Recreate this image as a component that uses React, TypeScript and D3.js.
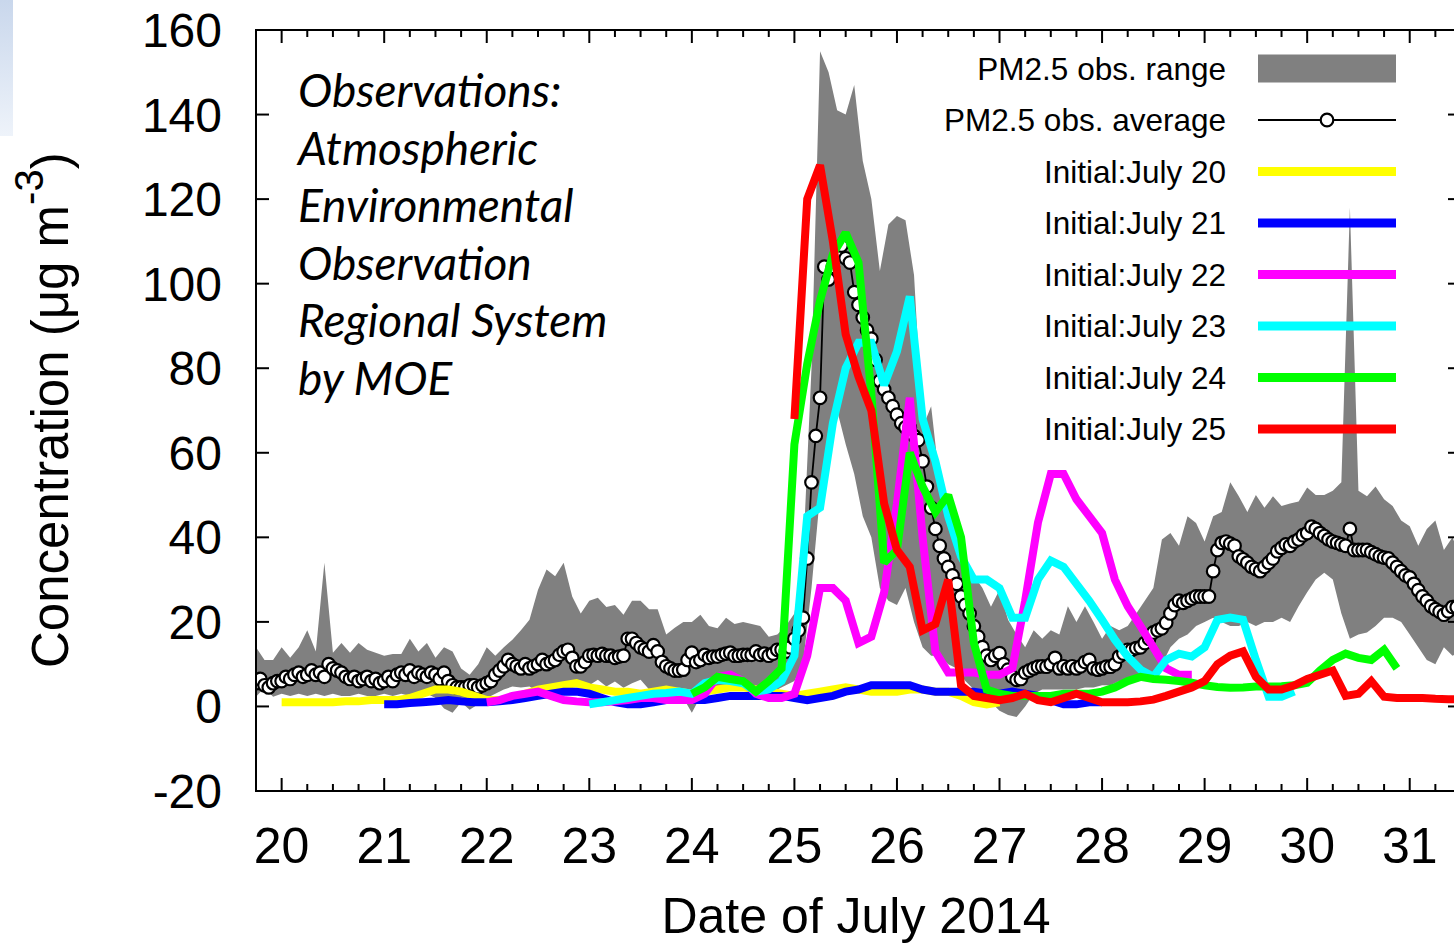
import React from "react";
import * as d3 from "d3";

// PM2.5 observations, hourly from July 19 18:00
const obsStart = 19.75;
const obsStep = 1 / 24;
const obsAverage = [
  5.5, 6.5, 5, 4.5, 5.5, 6,
  6, 7, 6.5, 7.5, 8, 7, 7.5, 8.5, 7.5, 8, 7, 10, 9, 8.5, 8, 7, 6.5, 7, 6, 6.5, 7, 6, 6.5, 5.5,
  6, 7, 6, 7.5, 8, 7.5, 8.5, 7, 8, 7.5, 7, 8, 7.5, 6.5, 8, 6, 5, 4.5, 4.5, 4.5, 5, 5, 4.5, 5,
  5.5, 6, 7.5, 8.5, 9.5, 11, 10, 9.5, 9, 10, 9, 9.5, 10, 11, 10, 10.5, 11, 12.2, 13, 13.4, 11.5, 9.5, 9.5, 10.5,
  12, 12.2, 12, 12.4, 12, 12, 11.5, 11.8, 12, 16, 16, 15, 14, 13.5, 13, 14.5, 13, 10.5, 9.5, 9, 8.5, 8.5, 8.7, 11,
  12.7, 10.5, 11, 12.2, 11.5, 11.8, 11.8, 12.2, 12.5, 12.7, 12, 12, 12.2, 12.2, 12.2, 13, 12.2, 12.5, 12, 12.5, 13.4, 13.4, 13, 14,
  16, 18, 21, 35, 53, 64, 73, 104, 101, 104, 107, 109, 106, 105, 98, 95, 92, 89, 87, 82, 77, 75, 73, 71,
  69, 67, 66, 66, 64, 63, 58, 52, 47, 42, 38, 35, 33, 31, 29, 26, 24, 22, 19, 16.5, 14, 12, 11, 12,
  12.6, 10, 8.7, 7, 6.3, 6.5, 8, 8.5, 9, 9.4, 9.5, 9.4, 10, 11.5, 9, 9.5, 9, 9.5, 9, 9.5, 10.5, 11, 9, 8.7,
  9, 9.4, 9.4, 10, 11.8, 12.5, 13.4, 13.4, 13.8, 14, 15, 16, 17.5, 18, 18.5, 19.8, 22, 24, 25, 24.5, 25, 25.5, 26, 26,
  26, 26, 32, 37, 38.7, 39, 38.5, 38, 35.5, 34.8, 34, 33, 32.5, 32, 33, 34, 35, 36.7, 37.5, 38.3, 38, 39, 39.5, 40.5,
  41, 42.5, 42, 41, 40.3, 39.5, 39, 38.7, 38.3, 38, 42, 37, 37, 37, 37, 36.5, 36, 35.5, 35.2, 35, 34, 33, 32, 31,
  30.5, 29, 27.5, 26, 25, 23.7, 23, 22.4, 21.7, 22.5, 23.5, 23.5,
];

// obs. range over the stations, every 2 h
const rangeStart = 19.75;
const rangeStep = 1 / 12;
const rangeUpper = [
  14, 11, 11,
  14, 11.5, 14, 18, 13, 34, 12.7, 15, 12.7, 15, 13.4, 12.7,
  12, 12.4, 12.4, 16, 13, 15, 11.5, 14, 13, 9, 7.5, 10,
  14, 12, 14, 15.8, 18, 20.5, 27.6, 32.4, 30.8, 34, 26, 22,
  25, 25.7, 23.5, 24, 21.7, 25, 25, 23, 23, 17, 18.6, 20,
  20, 21.7, 19, 18.5, 21, 19.5, 20, 19.5, 19, 16.5, 17, 19,
  22, 35, 80, 155, 150, 141, 140, 147, 129, 120, 103, 114,
  116, 115, 102, 66, 71, 53, 45, 38, 33, 31, 28, 23.6,
  27.6, 20.5, 17, 14, 18, 16, 18, 17, 23.7, 20, 23.7, 20,
  16, 19, 18, 19, 22, 25, 28, 39.5, 41, 38, 45, 43.4,
  39, 45, 46, 53, 49.7, 46, 50, 47, 49.7, 47.4, 48, 48.5,
  51.8, 50, 50, 51, 53, 118, 51, 49.7, 52, 49, 47.4, 44,
  42.6, 38, 42, 44, 37, 40, 35,
];
const rangeLower = [
  2.3, 4.5, 2.3,
  3, 2.5, 3, 2.5, 3, 2.5, 3, 2.5, 2.5, 3, 2.5, 2.5,
  3, 2.5, 3, 2.5, 2.5, 3, 2, -0.5, -1.5, 1, -0.8, 0.5,
  2, 3, 4, 4.7, 4.5, 4.7, 3.5, 4.7, 4.7, 4.5, 5.5, 4.7,
  5, 6.3, 4.7, 5.9, 4.4, 5.5, 6.3, 4, 4, 1.6, 3, 2,
  -1.5, 2.3, 3, 4, 4, 4, 4, 4, 4, 3.5, 4, 5,
  6, 10, 28, 50, 62, 70, 62, 55, 45, 40, 28, 25,
  24, 28, 20, 14, 12, 12, 10, 9, 6, 4, 2, 1,
  -1, -2, -2.5, 0, 3, 4, 4, 4, 4, 4, 4.5, 4.5,
  5, 5, 6, 6, 6.5, 7, 8, 10, 14, 16, 17, 19,
  20, 21, 20, 19, 19, 20, 19, 20, 20, 21, 20, 23.7,
  27, 30, 31.6, 30, 22, 16, 17, 17.5, 19, 21, 21, 20,
  17, 14, 11, 10, 14, 12, 13,
];

// model runs, 3-hourly output from 00:00 of the initial day
const runStep = 1 / 8;
const initJuly20 = [
  1, 1, 1, 1, 1, 1.2, 1.2, 1.5,
  1.5, 1.5, 2, 3, 4, 4, 3.5, 2.5,
  1.5, 1.5, 2, 3, 4, 4.5, 5, 5.5,
  4.5, 4, 3.5, 3.5, 3, 3.5, 4, 3.5,
  3, 3.5, 4, 4.5, 4.5, 4, 3.5, 3,
  2.5, 3, 3.5, 4, 4.5, 4, 3.5, 3.5,
  3.5, 4, 4, 3.5, 3.5, 2.5, 1, 0.5,
  1,
];
const initJuly21 = [
  0.5, 0.5, 0.8, 1, 1.2, 1.5, 1.2, 1,
  1, 1.2, 1.5, 2, 2.5, 3, 3.5, 3.5,
  3, 2, 1, 0.5, 0.5, 1, 1.5, 1.5,
  1.5, 1.5, 2, 2.5, 2.5, 2.5, 2.5, 2.5,
  2, 1.5, 2, 2.5, 3.5, 4, 5, 5,
  5, 5, 4, 3.5, 3.5, 3.5, 3.5, 3,
  3, 3.5, 3, 2.5, 1.5, 0.5, 0.5, 1,
  1,
];
const initJuly22 = [
  1, 1.5, 2.5, 3, 3.5, 2.5, 1.5, 1.2,
  1, 1, 1.2, 1.5, 2, 2, 1.5, 1.5,
  1.5, 3, 7, 7.5, 6, 3, 2, 2,
  3, 12, 28, 28, 25, 15, 16.5, 27,
  48, 73, 40, 13, 8, 8, 8, 7.5,
  7.5, 9, 25, 43.5, 55, 55, 49, 45,
  41, 30, 23.7, 19, 14, 9, 7.5, 7.5,
];
const initJuly23 = [
  0.5, 1, 1.5, 2, 2.5, 3, 3.2, 3.5,
  3, 5.5, 6.3, 6, 5.5, 3.5, 4, 6,
  12, 45, 47, 67, 80, 86, 86, 76,
  84, 97, 68, 58, 45, 35.5, 30, 30,
  28, 21, 21, 30, 34.5, 33, 29, 25,
  20.5, 15.8, 11.8, 8.7, 7, 11, 12.5, 11.8,
  14, 20.5, 21, 20.5, 11, 2.3, 2.3, 3.5,
];
const initJuly24 = [
  3, 4.5, 7, 6.5, 6, 3.5, 6, 9,
  62, 81, 96, 107, 112, 105, 74, 34,
  37, 60, 52, 46, 50, 40, 15, 4,
  3, 2.5, 2.5, 2.5, 2.5, 3, 3, 3,
  3.5, 4.5, 6, 7, 6.5, 6.3, 6, 5.6,
  5, 4.6, 4.4, 4.5, 4.7, 4.7, 4.8, 5,
  5.6, 8.5, 11, 12.5, 11.5, 11, 13.4, 9,
];
const initJuly25 = [
  68, 120, 128, 110, 88, 78, 70, 48,
  37, 33, 18, 19.5, 30, 5, 2.5, 2,
  1.5, 2, 3, 1.5, 1, 2, 3, 2,
  1, 1, 1, 1.2, 1.6, 2.5, 3.5, 4.5,
  6, 10, 12, 13, 7, 4, 4, 5,
  6.5, 7.5, 8.5, 2.5, 3, 6, 2.3, 2,
  2, 2, 1.8, 1.7, 1.7,
];

const runLabels = [
  "Initial:July 20",
  "Initial:July 21",
  "Initial:July 22",
  "Initial:July 23",
  "Initial:July 24",
  "Initial:July 25",
];
const runStarts = [20, 21, 22, 23, 24, 25];
const runColors = ["#ffff00", "#0000ff", "#ff00ff", "#00ffff", "#00ff00", "#ff0000"];
const runValues = [initJuly20, initJuly21, initJuly22, initJuly23, initJuly24, initJuly25];

const xTickValues = [20, 21, 22, 23, 24, 25, 26, 27, 28, 29, 30, 31];
const yTickValues = [-20, 0, 20, 40, 60, 80, 100, 120, 140, 160];

const noteLines = [
  "Observations:",
  "Atmospheric",
  "Environmental",
  "Observation",
  "Regional System",
  "by MOE",
];

const sans = "'Liberation Sans', Arial, Helvetica, sans-serif";

export default function App() {
  const width = 1454;
  const height = 946;
  const plot = { left: 256, top: 30, right: 1461, bottom: 791 };

  const x = d3.scaleLinear().domain([19.75, 31.5]).range([plot.left, plot.right]);
  const y = d3.scaleLinear().domain([-20, 160]).range([plot.bottom, plot.top]);

  const rangeArea = d3
    .area<number>()
    .x((_, i) => x(rangeStart + i * rangeStep))
    .y0((_, i) => y(rangeLower[i]))
    .y1((d) => y(d));

  const obsLine = d3
    .line<number>()
    .x((_, i) => x(obsStart + i * obsStep))
    .y((d) => y(d));

  const runLine = (start: number) =>
    d3
      .line<number>()
      .x((_, i) => x(start + i * runStep))
      .y((d) => y(d));

  const minorX = d3
    .range(19.75, 31.5001, 0.25)
    .filter((t) => Math.abs(t - Math.round(t)) > 1e-6);

  const majorLen = 13;
  const minorLen = 7;
  const dotR = 6.3;

  // key
  const keyTextX = 1226;
  const keyX0 = 1258;
  const keyX1 = 1396;
  const keyRow = (i: number) => 68.5 + i * 51.5;

  return (
    <svg
      width={width}
      height={height}
      style={{ position: "absolute", left: 0, top: 0, background: "#fff" }}
      fontFamily={sans}
    >
      <defs>
        <clipPath id="plotClip">
          <rect x={plot.left} y={plot.top} width={plot.right - plot.left} height={plot.bottom - plot.top} />
        </clipPath>
        <linearGradient id="slideBg" x1="0" y1="0" x2="0" y2="1">
          <stop offset="0%" stopColor="#c9d7ec" />
          <stop offset="100%" stopColor="#eef3fa" />
        </linearGradient>
      </defs>

      <rect x={0} y={0} width={width} height={height} fill="#fff" />
      <rect x={0} y={0} width={13} height={136} fill="url(#slideBg)" />

      <g clipPath="url(#plotClip)">
        <path d={rangeArea(rangeUpper) ?? ""} fill="#808080" stroke="none" />
        <path d={obsLine(obsAverage) ?? ""} fill="none" stroke="#000" strokeWidth={1.8} />
        {obsAverage.map((v, i) => (
          <circle
            key={i}
            cx={x(obsStart + i * obsStep)}
            cy={y(v)}
            r={dotR}
            fill="#fff"
            stroke="#000"
            strokeWidth={2.2}
          />
        ))}
        {runValues.map((vals, k) => (
          <path
            key={k}
            d={runLine(runStarts[k])(vals) ?? ""}
            fill="none"
            stroke={runColors[k]}
            strokeWidth={8}
            strokeLinejoin="miter"
            strokeMiterlimit={2}
          />
        ))}
      </g>

      {/* ticks */}
      <g stroke="#000" strokeWidth={2}>
        {xTickValues.map((t) => (
          <g key={"xt" + t}>
            <line x1={x(t)} x2={x(t)} y1={plot.bottom} y2={plot.bottom - majorLen} />
            <line x1={x(t)} x2={x(t)} y1={plot.top} y2={plot.top + majorLen} />
          </g>
        ))}
        {minorX.map((t) => (
          <g key={"xm" + t}>
            <line x1={x(t)} x2={x(t)} y1={plot.bottom} y2={plot.bottom - minorLen} />
            <line x1={x(t)} x2={x(t)} y1={plot.top} y2={plot.top + minorLen} />
          </g>
        ))}
        {yTickValues.map((v) => (
          <g key={"yt" + v}>
            <line x1={plot.left} x2={plot.left + majorLen} y1={y(v)} y2={y(v)} />
            <line x1={plot.right} x2={plot.right - majorLen} y1={y(v)} y2={y(v)} />
          </g>
        ))}
      </g>
      <rect
        x={plot.left}
        y={plot.top}
        width={plot.right - plot.left}
        height={plot.bottom - plot.top}
        fill="none"
        stroke="#000"
        strokeWidth={2}
      />

      {/* tick labels */}
      {yTickValues.map((v) => (
        <text key={"yl" + v} x={222} y={y(v) + 17} fontSize={48} textAnchor="end" fill="#000">
          {v}
        </text>
      ))}
      {xTickValues.map((t) => (
        <text key={"xl" + t} x={x(t)} y={863} fontSize={50} textAnchor="middle" fill="#000">
          {t}
        </text>
      ))}

      {/* axis titles */}
      <text x={856} y={933} fontSize={50} textAnchor="middle" fill="#000">
        Date of July 2014
      </text>
      <text transform="translate(68,668) rotate(-90)" fontSize={51} fill="#000">
        Concentration (μg m
        <tspan dy={-25} fontSize={40}>-3</tspan>
        <tspan dy={25}>)</tspan>
      </text>

      {/* note */}
      <g fontFamily="Lato, 'Open Sans', sans-serif" fontStyle="italic" fontSize={46} fill="#000">
        {noteLines.map((s, i) => (
          <text key={s} x={298} y={107 + i * 57.6}>
            {s}
          </text>
        ))}
      </g>

      {/* key */}
      <g fontSize={31.5} fill="#000">
        <text x={keyTextX} y={keyRow(0) + 11} textAnchor="end">PM2.5 obs. range</text>
        <rect x={keyX0} y={keyRow(0) - 14} width={keyX1 - keyX0} height={28} fill="#808080" />
        <text x={keyTextX} y={keyRow(1) + 11} textAnchor="end">PM2.5 obs. average</text>
        <line x1={keyX0} x2={keyX1} y1={keyRow(1)} y2={keyRow(1)} stroke="#000" strokeWidth={2} />
        <circle cx={(keyX0 + keyX1) / 2} cy={keyRow(1)} r={dotR} fill="#fff" stroke="#000" strokeWidth={2.2} />
        {runLabels.map((label, k) => (
          <g key={label}>
            <text x={keyTextX} y={keyRow(k + 2) + 11} textAnchor="end">
              {label}
            </text>
            <line
              x1={keyX0}
              x2={keyX1}
              y1={keyRow(k + 2)}
              y2={keyRow(k + 2)}
              stroke={runColors[k]}
              strokeWidth={9}
            />
          </g>
        ))}
      </g>
    </svg>
  );
}
